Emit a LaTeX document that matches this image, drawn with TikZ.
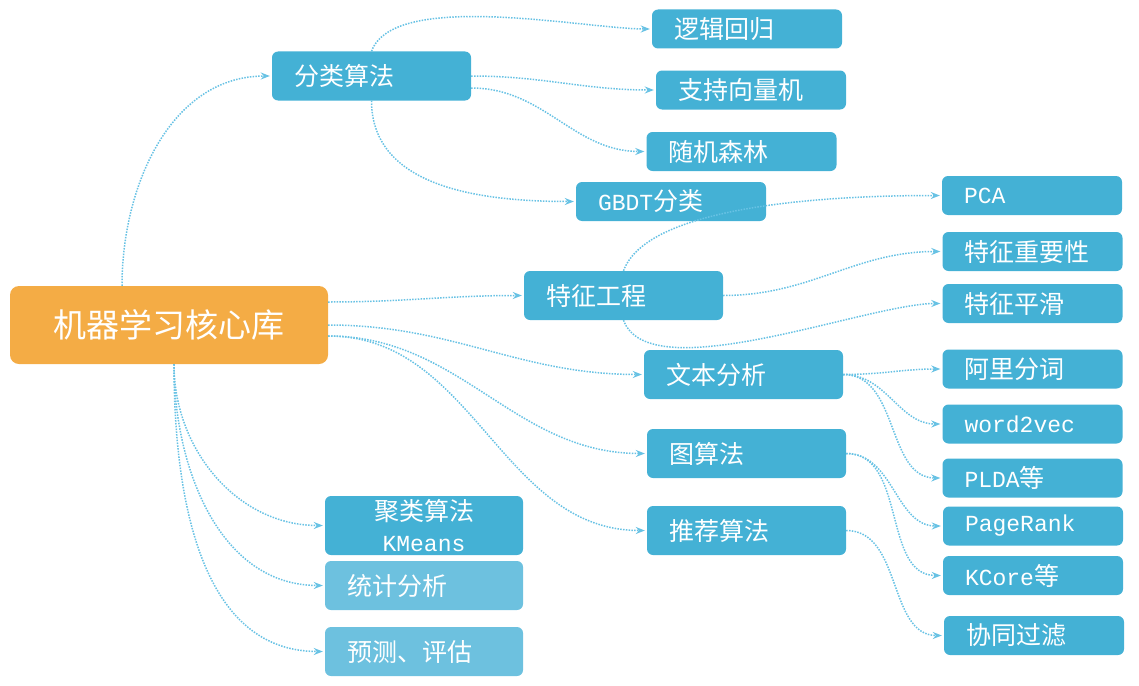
\documentclass[tikz,border=0pt]{standalone}
\usepackage{fontspec}
\setmainfont{Noto Sans CJK SC}
\newfontfamily\lat[Scale=0.92]{Liberation Mono}
\usetikzlibrary{arrows.meta,calc}
\definecolor{boxblue}{RGB}{68,177,213}
\definecolor{paleblue}{RGB}{109,193,223}
\definecolor{rootorange}{RGB}{244,172,69}
\definecolor{linkblue}{RGB}{104,194,228}
\tikzset{
  box/.style={fill=boxblue, rounded corners=6pt, text=white, align=left,
    inner xsep=22pt, inner ysep=2pt, font=\fontsize{25}{30}\selectfont},
  midbox/.style={box, text width=155pt, minimum height=49pt},
  leafbox/.style={box, text width=146pt, minimum height=39pt},
  rightbox/.style={box, text width=136pt, minimum height=39pt},
  link/.style={draw=linkblue, line width=1.5pt, dash pattern=on 1.5pt off 1.3pt,
    -{Stealth[length=9pt,width=7pt,inset=3pt]}, shorten >=2pt}
}
\begin{document}
\begin{tikzpicture}[x=1pt,y=1pt,yscale=-1,xscale=1]
\useasboundingbox (0,0) rectangle (1139,685);
% Root
\node [fill=rootorange, rounded corners=9pt, text=white, minimum width=318pt, minimum height=78pt,
  font=\fontsize{33}{38}\selectfont] (root) at (169,325) {机器学习核心库};
% Classification
\node [midbox] (cls) at (371.5,76) {分类算法};
\node [leafbox] (lr) at (747,29) {逻辑回归};
\node [leafbox] (svm) at (751,90) {支持向量机};
\node [leafbox] (rf) at (741.5,151.5) {随机森林};
\node [leafbox] (gbdt) at (671,201.5) {{\lat GBDT}分类};
% Feature engineering
\node [midbox] (fe) at (623.5,295.5) {特征工程};
\node [rightbox] (pca) at (1032,195.5) {{\lat PCA}};
\node [rightbox] (imp) at (1032.5,251.5) {特征重要性};
\node [rightbox] (smooth) at (1032.5,303.5) {特征平滑};
% Text, graph, recommendation
\node [midbox] (txt) at (743.5,374.5) {文本分析};
\node [midbox] (graph) at (746.5,453.5) {图算法};
\node [midbox] (rec) at (746.5,530.5) {推荐算法};
\node [rightbox] (seg) at (1032.5,369) {阿里分词};
\node [rightbox] (wvec) at (1032.5,424) {{\lat word2vec}};
\node [rightbox] (plda) at (1032.5,478) {{\lat PLDA}等};
\node [rightbox] (prank) at (1033,526) {{\lat PageRank}};
\node [rightbox] (kcore) at (1033,575.5) {{\lat KCore}等};
\node [rightbox] (cf) at (1034,635.5) {协同过滤};
% Lower group
\node [box, align=center, text width=154pt, minimum height=59pt, inner ysep=0pt,
  font=\fontsize{25}{31}\selectfont] (km) at (424,525.5) {聚类算法\\{\lat KMeans}};
\node [box, fill=paleblue, text width=154pt, minimum height=49pt] (stat) at (424,585.5) {统计分析};
\node [box, fill=paleblue, text width=154pt, minimum height=49pt] (pred) at (424,651.5) {预测、评估};
% Connectors
\coordinate (rootup) at ($(root.north)+(-47,0)$);
\coordinate (rootdown) at ($(root.south)+(5,0)$);
\coordinate (rootr1) at ($(root.east)+(0,-23)$);
\coordinate (rootr2) at ($(root.east)+(0,0)$);
\coordinate (rootr3) at ($(root.east)+(0,11)$);
\draw [link] (rootup) to[out=270,in=180] (cls.west);
\draw [link] (rootr1) to[out=0,in=180] (fe.west);
\draw [link] (rootr2) to[out=0,in=180] (txt.west);
\draw [link] (rootr3) to[out=0,in=180] (graph.west);
\draw [link] (rootr3) to[out=0,in=180] (rec.west);
\draw [link] (rootdown) to[out=90,in=180] (km.west);
\draw [link] (rootdown) to[out=90,in=180] (stat.west);
\draw [link] (rootdown) to[out=90,in=180] (pred.west);
\draw [link] (cls.north) to[out=-70,in=180,looseness=0.6] (lr.west);
\draw [link] (cls.east) to[out=0,in=180] (svm.west);
\draw [link] ($(cls.east)+(0,12)$) to[out=0,in=180] (rf.west);
\draw [link] (cls.south) to[out=90,in=180] (gbdt.west);
\draw [link] (fe.north) to[out=-70,in=180,looseness=0.6] (pca.west);
\draw [link] (fe.east) to[out=0,in=180] (imp.west);
\draw [link] (fe.south) to[out=70,in=180,looseness=0.6] (smooth.west);
\draw [link] (txt.east) to[out=0,in=180] (seg.west);
\draw [link] (txt.east) to[out=0,in=180] (wvec.west);
\draw [link] (txt.east) to[out=0,in=180] (plda.west);
\draw [link] (graph.east) to[out=0,in=180] (prank.west);
\draw [link] (graph.east) to[out=0,in=180] (kcore.west);
\draw [link] (rec.east) to[out=0,in=180] (cf.west);
\end{tikzpicture}
\end{document}
